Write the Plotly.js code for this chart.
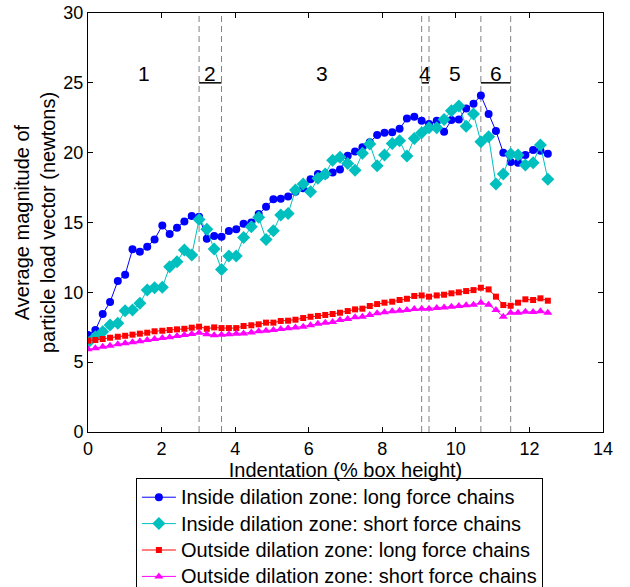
<!DOCTYPE html>
<html>
<head>
<meta charset="utf-8">
<script src="https://cdn.plot.ly/plotly-3.0.1.min.js"></script>
<style>
  html, body { margin: 0; padding: 0; background: #fff; }
  #chart { width: 630px; height: 587px; }
  /* legend rows keep the tight 18px row pitch while the entry text is set at 20px */
  .legendtext { font-size: 20px !important; }
</style>
</head>
<body>
<div id="chart"></div>
<script>
// Indentation (% of box height) at each sampled step
const indentation = [
  0, 0.20, 0.40, 0.60, 0.81, 1.01, 1.21, 1.41, 1.61, 1.81,
  2.02, 2.22, 2.42, 2.62, 2.82, 3.02, 3.23, 3.43, 3.63, 3.83,
  4.03, 4.23, 4.44, 4.64, 4.84, 5.04, 5.24, 5.44, 5.64, 5.85,
  6.05, 6.25, 6.45, 6.65, 6.85, 7.06, 7.26, 7.46, 7.66, 7.86,
  8.06, 8.27, 8.47, 8.67, 8.87, 9.07, 9.27, 9.48, 9.68, 9.88,
  10.08, 10.28, 10.48, 10.68, 10.89, 11.09, 11.29, 11.49, 11.69, 11.89,
  12.10, 12.30, 12.50
];

// Average load-vector magnitude (N), inside dilation zone, long chains
const insideLong = [
  6.94, 7.30, 8.45, 9.31, 10.81, 11.26, 13.08, 12.91, 13.27, 13.79,
  14.79, 14.17, 14.63, 15.08, 15.46, 15.41, 13.84, 14.03, 13.98, 14.39,
  14.51, 14.91, 15.00, 15.60, 16.13, 16.66, 16.70, 16.87, 17.20, 17.45,
  18.09, 18.48, 18.40, 18.58, 18.80, 19.78, 20.08, 20.38, 20.75, 21.26,
  21.42, 21.46, 21.71, 22.44, 22.57, 22.28, 22.05, 22.28, 21.50, 22.33,
  22.38, 23.17, 23.50, 24.10, 22.76, 21.55, 20.00, 19.33, 19.28, 19.83,
  20.19, 20.14, 19.92
];

// Inside dilation zone, short chains
const insideShort = [
  6.40, 6.82, 7.18, 7.66, 7.78, 8.68, 8.73, 9.21, 10.16, 10.33,
  10.36, 11.83, 12.19, 13.03, 12.67, 15.22, 14.51, 13.10, 11.64, 12.60,
  12.60, 13.93, 14.70, 15.37, 13.79, 14.41, 15.53, 15.65, 17.32, 17.75,
  17.20, 18.16, 18.47, 19.45, 19.68, 19.23, 18.75, 19.95, 20.62, 19.07,
  19.83, 20.66, 20.85, 19.76, 21.02, 21.43, 21.78, 21.78, 22.38, 23.00,
  23.34, 21.90, 22.76, 20.78, 21.14, 17.75, 18.47, 19.90, 19.83, 19.11,
  19.28, 20.54, 18.09
];

// Outside dilation zone, long chains
const outsideLong = [
  6.54, 6.59, 6.66, 6.75, 6.82, 6.89, 6.97, 7.04, 7.11, 7.21,
  7.25, 7.30, 7.35, 7.39, 7.47, 7.54, 7.39, 7.49, 7.44, 7.44,
  7.44, 7.59, 7.64, 7.71, 7.83, 7.83, 7.95, 7.97, 8.04, 8.16,
  8.25, 8.31, 8.38, 8.45, 8.54, 8.66, 8.78, 8.83, 9.02, 9.16,
  9.26, 9.33, 9.45, 9.54, 9.74, 9.78, 9.69, 9.78, 9.83, 9.93,
  10.00, 10.09, 10.16, 10.33, 10.21, 9.69, 9.09, 9.04, 9.26, 9.50,
  9.45, 9.57, 9.40
];

// Outside dilation zone, short chains
const outsideShort = [
  5.92, 5.99, 6.11, 6.18, 6.28, 6.35, 6.42, 6.49, 6.59, 6.66,
  6.73, 6.78, 6.87, 6.94, 7.02, 7.11, 6.99, 6.92, 6.97, 7.00,
  7.04, 7.06, 7.13, 7.21, 7.25, 7.30, 7.37, 7.42, 7.49, 7.54,
  7.64, 7.75, 7.83, 7.87, 8.02, 8.09, 8.21, 8.25, 8.38, 8.50,
  8.57, 8.64, 8.68, 8.73, 8.80, 8.83, 8.83, 8.88, 8.92, 8.97,
  9.02, 9.07, 9.11, 9.26, 9.11, 8.73, 8.25, 8.54, 8.54, 8.61,
  8.59, 8.64, 8.54
];

// Phase boundaries (indentation) and phase numbers
const phaseBounds = [3.02, 3.63, 9.07, 9.27, 10.68, 11.49];
const phaseLabels = ['1', '2', '3', '4', '5', '6'];
const underlinedPhases = ['2', '4', '6'];

const seriesNames = [
  'Inside dilation zone: long force chains',
  'Inside dilation zone: short force chains',
  'Outside dilation zone: long force chains',
  'Outside dilation zone: short force chains'
];

const FONT = 'Liberation Sans, Arial, Helvetica, sans-serif';
const X_MAX = 14, Y_MAX = 30;

function series(y, name, color, symbol, size) {
  return {
    x: indentation, y: y, name: name, type: 'scatter', mode: 'lines+markers',
    line: { color: color, width: 1 },
    marker: { color: color, symbol: symbol, size: size, line: { width: 0 } }
  };
}

const traces = [
  series(insideLong, seriesNames[0], 'rgb(0,0,255)', 'circle', 8),
  series(insideShort, seriesNames[1], 'rgb(0,191,191)', 'diamond', 10),
  series(outsideLong, seriesNames[2], 'rgb(255,0,0)', 'square', 6),
  series(outsideShort, seriesNames[3], 'rgb(255,0,255)', 'triangle-up', 8)
];

// Phase edges: start of axis, boundaries, end of last data point
const edges = [0].concat(phaseBounds, [indentation[indentation.length - 1]]);

const shapes = phaseBounds.map(b => ({
  type: 'line', xref: 'x', yref: 'y', x0: b, x1: b, y0: 0, y1: Y_MAX,
  line: { color: 'rgb(128,128,128)', width: 1, dash: '6px,4px' }, layer: 'below'
}));

const annotations = [];
phaseLabels.forEach((lab, i) => {
  const mid = (edges[i] + edges[i + 1]) / 2;
  annotations.push({
    x: mid, y: 25.7, xref: 'x', yref: 'y', text: lab, showarrow: false,
    font: { family: FONT, size: 21, color: '#000' }, xanchor: 'center', yanchor: 'middle'
  });
  if (underlinedPhases.includes(lab)) {
    shapes.push({
      type: 'line', xref: 'x', yref: 'y', x0: edges[i], x1: edges[i + 1], y0: 25.0, y1: 25.0,
      line: { color: '#000', width: 1.5 }
    });
  }
});

const axisCommon = {
  showgrid: false, zeroline: false, showline: true, linecolor: '#000', linewidth: 1,
  mirror: 'allticks', ticks: 'inside', ticklen: 5, tickcolor: '#000', tickwidth: 1,
  tickfont: { family: FONT, size: 18, color: '#000' }
};

const layout = {
  width: 630, height: 587,
  margin: { l: 88, r: 27, t: 13, b: 155, pad: 0, autoexpand: false },
  paper_bgcolor: '#fff', plot_bgcolor: '#fff',
  font: { family: FONT, color: '#000' },
  xaxis: Object.assign({}, axisCommon, {
    range: [0, X_MAX], tickvals: [0, 2, 4, 6, 8, 10, 12, 14],
    title: { text: 'Indentation (% box height)', font: { family: FONT, size: 20 }, standoff: 0 }
  }),
  yaxis: Object.assign({}, axisCommon, {
    range: [0, Y_MAX], tickvals: [0, 5, 10, 15, 20, 25, 30],
    title: { text: 'Average magnitude of<br>particle load vector (newtons)', font: { family: FONT, size: 20 }, standoff: 2 }
  }),
  legend: {
    x: 0.093, y: -0.1098, xanchor: 'left', yanchor: 'top',
    bgcolor: '#fff', bordercolor: '#000', borderwidth: 1,
    font: { family: FONT, size: 18, color: '#000' },
    itemwidth: 34, tracegroupgap: 0
  },
  showlegend: true,
  shapes: shapes,
  annotations: annotations
};

Plotly.newPlot('chart', traces, layout, { staticPlot: true, displayModeBar: false });
</script>
</body>
</html>
